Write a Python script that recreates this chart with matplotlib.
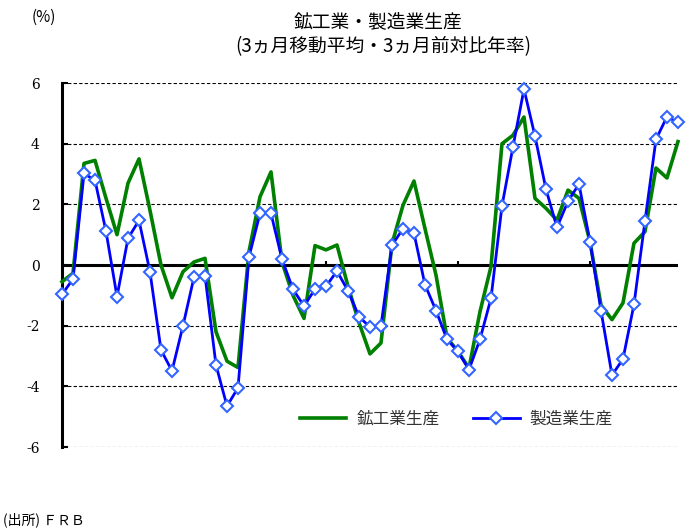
import matplotlib
matplotlib.use("Agg")
import matplotlib.pyplot as plt
import numpy as np

plt.rcParams['font.family'] = ['Noto Sans CJK JP', 'DejaVu Sans']

# 鉱工業生産 (3ヵ月移動平均・3ヵ月前対比年率, %)
kogyo = [-0.55, -0.27, 3.35, 3.45, 2.2, 1.0, 2.7, 3.5, 1.8, 0.0,
         -1.08, -0.22, 0.1, 0.22, -2.2, -3.17, -3.38, 0.45, 2.25, 3.07,
         0.1, -1.0, -1.76, 0.64, 0.5, 0.66, -0.7, -1.9, -2.93, -2.57,
         0.7, 1.97, 2.77, 1.2, -0.33, -2.4, -2.85, -3.4, -1.54, -0.05,
         4.0, 4.28, 4.88, 2.2, 1.87, 1.48, 2.47, 2.2, 0.77, -1.32,
         -1.8, -1.25, 0.72, 1.1, 3.2, 2.87, 4.07]
# 製造業生産
seizo = [-0.97, -0.46, 3.02, 2.79, 1.11, -1.04, 0.88, 1.47, -0.23, -2.8,
         -3.49, -2.0, -0.4, -0.35, -3.3, -4.65, -4.05, 0.27, 1.7, 1.7,
         0.19, -0.8, -1.35, -0.8, -0.7, -0.2, -0.85, -1.7, -2.05, -2.0,
         0.65, 1.2, 1.05, -0.65, -1.5, -2.45, -2.85, -3.45, -2.45, -1.1,
         1.95, 3.9, 5.8, 4.25, 2.5, 1.24, 2.1, 2.67, 0.77, -1.5,
         -3.63, -3.1, -1.3, 1.45, 4.14, 4.89, 4.7]

x = np.arange(len(seizo))
yticks = [-6, -4, -2, 0, 2, 4, 6]

fig = plt.figure(figsize=(6.89, 5.29), dpi=100)
ax = fig.add_axes([0.090, 0.155, 0.894, 0.688])

for v in yticks:
    if v == 0:
        ax.axhline(0, color='black', linewidth=2.2, zorder=2)
    else:
        ax.axhline(v, color='black', linewidth=0.8, linestyle=(0, (3, 2)), zorder=1)

# year ticks on the zero line
ax.vlines(np.arange(12, len(x), 12), 0, 0.12, color='black', linewidth=1.5, zorder=2)

ax.plot(x, kogyo, color='#008000', linewidth=2.6, label='鉱工業生産', zorder=3,
        clip_on=False)
ax.plot(x, seizo, color='#0000ff', linewidth=2.0, marker='D', markersize=6,
        markerfacecolor='white', markeredgecolor='#3366ff', markeredgewidth=1.5,
        label='製造業生産', zorder=4, clip_on=False)

ax.set_xlim(0, len(x) - 1)
ax.set_ylim(-6, 6)
ax.set_yticks(yticks)
ax.set_yticklabels([str(v) for v in yticks], family='DejaVu Serif', fontsize=10)
ax.set_xticks([])
ax.tick_params(axis='y', direction='in', length=4, width=1.5, pad=16)
for s in ['top', 'right', 'bottom']:
    ax.spines[s].set_visible(False)
ax.spines['left'].set_linewidth(2.2)

leg = ax.legend(loc='center', bbox_to_anchor=(0.64, 0.077), ncol=2, frameon=False,
                fontsize=12, handlelength=2.8, columnspacing=2.0, handletextpad=0.6)
for t in leg.get_texts():
    t.set_color('#333333')

fig.text(0.548, 0.960, '鉱工業・製造業生産', ha='center', va='center', fontsize=13.5)
fig.text(0.556, 0.911, '(3ヵ月移動平均・3ヵ月前対比年率)', ha='center', va='center', fontsize=13.5)
fig.text(0.064, 0.967, '(%)', ha='center', va='center', fontsize=11)
fig.text(0.005, 0.017, '(出所) ＦＲＢ', ha='left', va='center', fontsize=10)

fig.savefig('out.png', dpi=100)
